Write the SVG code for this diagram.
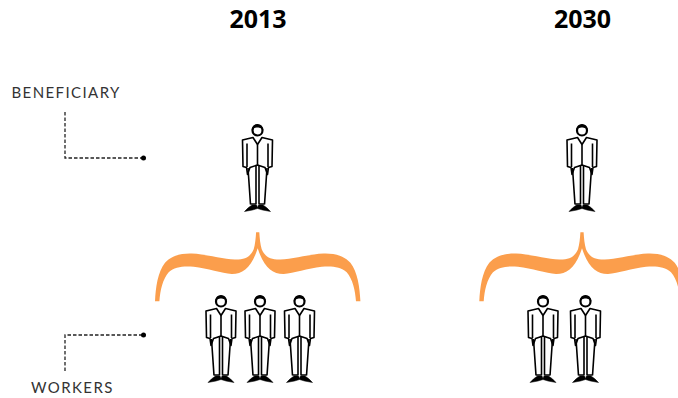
<svg xmlns="http://www.w3.org/2000/svg" xmlns:xlink="http://www.w3.org/1999/xlink" width="678" height="398" viewBox="0 0 678 398">
<style>
.yr{font:700 25px "Noto Sans","Open Sans",sans-serif;text-anchor:middle;fill:#000}
.lb{font:400 15px Lato,"Noto Sans",sans-serif;letter-spacing:1.400px;fill:#333}
.dash{fill:none;stroke:#222;stroke-width:1.300;stroke-dasharray:3.500 2}
.brace{fill:#fb9e4c}
.ln{fill:none;stroke:#000;stroke-width:1.600;stroke-linejoin:round}
</style>
<defs>
<g id="man">
<circle cx="0" cy="6.500" r="5" fill="#fff" stroke="#000" stroke-width="2.200"/>
<path d="M-6 6Q-5 0 0 0Q5 0 6 6Q3 3 0 3.500Q-3 3 -6 6Z" fill="#000"/>
<path class="ln" d="M-4.500 13.500L-15 16L-14.500 42.500L-11 43.500L-10 50.500L-7.500 43.500L0 41L7.500 43.500L10 50.500L11 43.500L14.500 42.500L15 16L4.500 13.500L0 20.500L-4.500 13.500Z"/>
<path class="ln" d="M0 20.500V41M-10.500 19.500L-10.500 43M10.500 19.500L10.500 43"/>
<path class="ln" d="M-9.500 44L-7 80.500M-1.500 42V80.500M1.500 42V80.500M9.500 44L7 80.500M-7 80H-1.500M1.500 80H7"/>
<path d="M-13 87.500Q-9 83 -5.500 81L-1 81L0 83.500L1 81L5.500 81Q9 83 13 87.500L5 86L0 84.500L-5 86Z" fill="#000" stroke="#000" stroke-width=".500"/>
</g>
<path id="curly" class="brace" d="M-102.700 69C-102 55-100 40-92.700 30.500C-86 23-76 21-66 21.300C-50 22-35 27-22.700 27.300C-12 27.500-7 24-4 17C-2.500 12-2 6-1.600 0H1.600C2 6 2.500 12 4 17C7 24 12 27.500 22.700 27.300C35 27 50 22 66 21.300C76 21 86 23 92.700 30.500C100 40 102 55 102.700 69H98.300C97.500 58 95 47 89 40C83 34.500 74 33.500 64 34.500C50 36 36 41 26 41.800C15 42 6 35 0 16C-6 35-15 42-26 41.800C-36 41-50 36-64 34.500C-74 33.500-83 34.500-89 40C-95 47-97.500 58-98.300 69Z"/>
</defs>
<g id="connectors">
<path class="dash" d="M65 112V158H143"/>
<circle cx="143.500" cy="158" r="2.500" fill="#000"/>
<path class="dash" d="M65 371V335H143"/>
<circle cx="143.500" cy="335" r="2.500" fill="#000"/>
</g>
<g id="year-2013"><text class="yr" x="258" y="28">2013</text></g>
<g id="year-2030"><text class="yr" x="582.500" y="28">2030</text></g>
<g id="label-beneficiary"><text class="lb" x="11.500" y="98">BENEFICIARY</text></g>
<g id="label-workers"><text class="lb" x="31" y="393">WORKERS</text></g>
<g id="brace-2013"><use href="#curly" x="257.700" y="232.300"/></g>
<g id="brace-2030"><use href="#curly" x="582" y="232.300"/></g>
<g id="beneficiary-2013"><use href="#man" x="257.500" y="124"/></g>
<g id="beneficiary-2030"><use href="#man" x="582" y="124"/></g>
<g id="worker-2013-1"><use href="#man" x="221" y="295"/></g>
<g id="worker-2013-2"><use href="#man" x="260" y="295"/></g>
<g id="worker-2013-3"><use href="#man" x="299.500" y="295"/></g>
<g id="worker-2030-1"><use href="#man" x="543" y="295"/></g>
<g id="worker-2030-2"><use href="#man" x="585.500" y="295"/></g>
</svg>
